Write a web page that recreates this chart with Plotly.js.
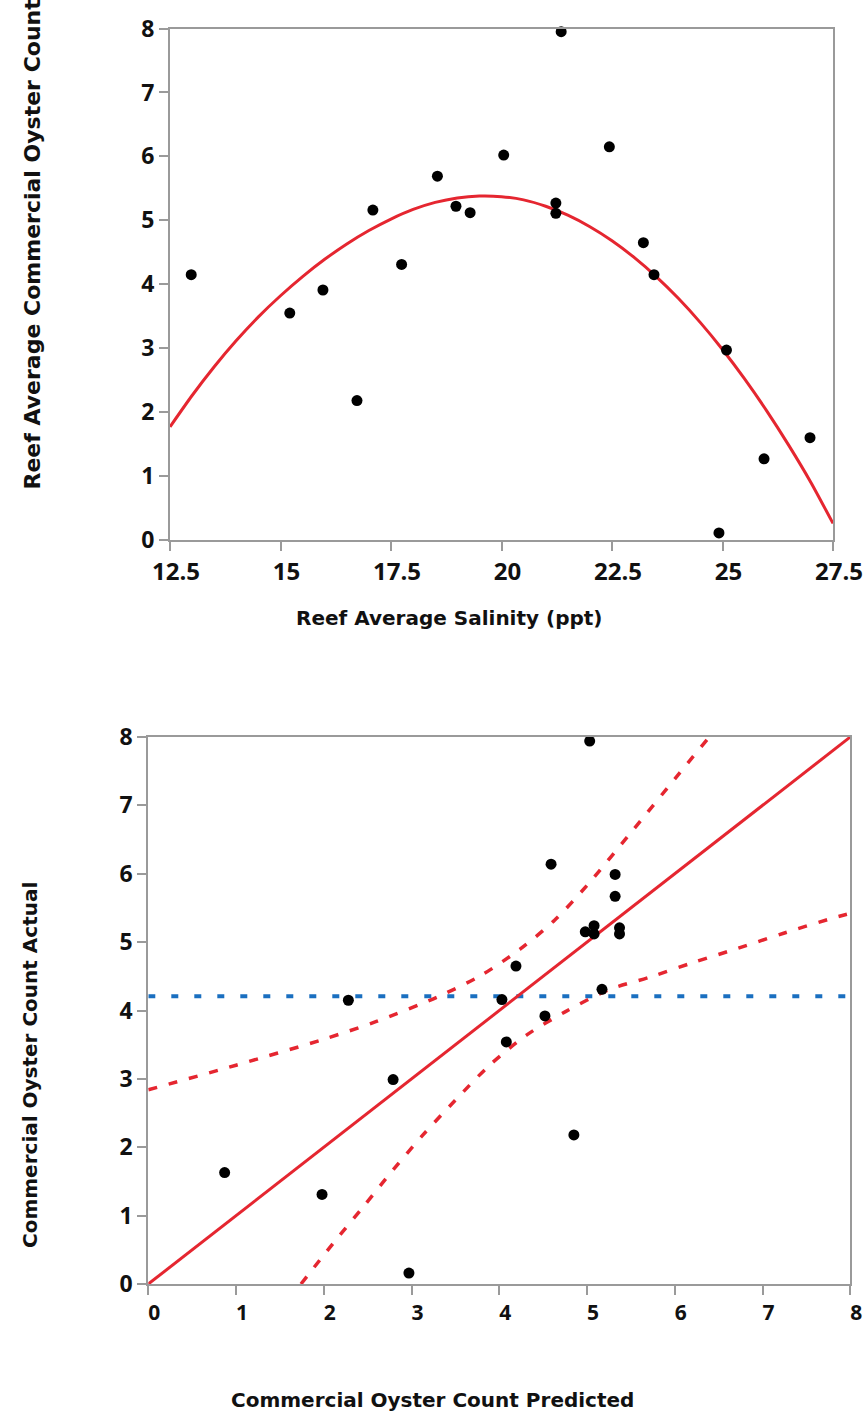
<!DOCTYPE html>
<html>
<head>
<meta charset="utf-8">
<script src="https://cdn.plot.ly/plotly-3.0.1.min.js"></script>
<style>
  html, body { margin: 0; padding: 0; background: #ffffff; }
  #chart { width: 865px; height: 1416px; }
</style>
</head>
<body>
<div id="chart"></div>
<script>
// ---------- Top panel: salinity vs. commercial oyster count ----------
const salinity = [12.98, 15.21, 15.96, 16.73, 17.09, 17.74, 18.55, 18.97, 19.29, 20.05,
                  21.23, 21.23, 21.35, 22.44, 23.21, 23.45, 25.09, 24.92, 25.94, 26.98];
const oysterCount = [4.15, 3.55, 3.91, 2.18, 5.16, 4.31, 5.69, 5.22, 5.12, 6.02,
                     5.27, 5.11, 7.95, 6.15, 4.65, 4.15, 2.97, 0.11, 1.27, 1.60];

// quadratic fit curve
const fitSalinity = [12.5, 13.0, 13.5, 14.0, 14.5, 15.0, 15.5, 16.0, 16.5, 17.0,
                     17.5, 18.0, 18.5, 19.0, 19.5, 20.0, 20.5, 21.0, 21.5, 22.0,
                     22.5, 23.0, 23.5, 24.0, 24.5, 25.0, 25.5, 26.0, 26.5, 27.0, 27.5];
const fitCount = [1.77, 2.26, 2.71, 3.12, 3.49, 3.82, 4.12, 4.39, 4.63, 4.84,
                  5.02, 5.17, 5.28, 5.35, 5.38, 5.37, 5.32, 5.22, 5.08, 4.90,
                  4.68, 4.42, 4.12, 3.78, 3.40, 2.98, 2.52, 2.02, 1.48, 0.90, 0.26];

const salinityTicks = [12.5, 15, 17.5, 20, 22.5, 25, 27.5];
const salinityTickText = ["12.5", "15", "17.5", "20", "22.5", "25", "27.5"];

// ---------- Bottom panel: predicted vs. actual ----------
const predicted = [5.03, 4.59, 5.32, 5.32, 4.98, 5.08, 5.08, 5.37, 5.37, 4.19,
                   5.17, 4.03, 4.52, 4.08, 2.28, 2.79, 0.87, 1.98, 2.97, 4.85];
const actual = [7.94, 6.14, 5.99, 5.67, 5.15, 5.24, 5.12, 5.21, 5.12, 4.65,
                4.31, 4.16, 3.92, 3.54, 4.15, 2.99, 1.63, 1.31, 0.16, 2.18];

const fitLineX = [0, 8];
const fitLineY = [0, 8];
const meanLineX = [0, 8];
const meanLineY = [4.21, 4.21];

const upperCiX = [0, 1.0, 2.0, 2.6, 3.3, 3.8, 4.24, 4.63, 5.0, 5.53, 6.04, 6.38];
const upperCiY = [2.84, 3.20, 3.58, 3.84, 4.20, 4.52, 4.90, 5.32, 5.83, 6.65, 7.45, 7.98];
const lowerCiX = [1.74, 2.11, 2.45, 2.79, 3.13, 3.50, 3.89, 4.31, 4.75, 5.24, 5.72, 6.23, 6.72, 7.24, 7.77, 8.0];
const lowerCiY = [0.0, 0.60, 1.13, 1.67, 2.18, 2.69, 3.20, 3.64, 3.98, 4.30, 4.49, 4.71, 4.91, 5.13, 5.34, 5.42];

const unitTicks = [0, 1, 2, 3, 4, 5, 6, 7, 8];
const unitTickText = ["0", "1", "2", "3", "4", "5", "6", "7", "8"];

// ---------- styling ----------
const W = 865, H = 1416;
const RED = "#e52630";
const BLUE = "#1a6fc0";
const AXIS = "#9a9a9a";
const TICKFONT = '"Open Sans", "Noto Sans", sans-serif';
const TITLEFONT = '"DejaVu Sans", Verdana, sans-serif';

const px = v => v / W;
const py = v => 1 - v / H;

const traces = [
  { x: fitSalinity, y: fitCount, type: "scatter", mode: "lines",
    line: { color: RED, width: 3, shape: "spline", smoothing: 0.6 }, xaxis: "x", yaxis: "y", hoverinfo: "skip" },
  { x: salinity, y: oysterCount, type: "scatter", mode: "markers",
    marker: { color: "#000", size: 11 }, xaxis: "x", yaxis: "y", cliponaxis: false },

  { x: meanLineX, y: meanLineY, type: "scatter", mode: "lines",
    line: { color: BLUE, width: 4, dash: "7px,16px" }, xaxis: "x2", yaxis: "y2" },
  { x: upperCiX, y: upperCiY, type: "scatter", mode: "lines",
    line: { color: RED, width: 3.5, dash: "9px,12px", shape: "spline", smoothing: 0.8 }, xaxis: "x2", yaxis: "y2" },
  { x: lowerCiX, y: lowerCiY, type: "scatter", mode: "lines",
    line: { color: RED, width: 3.5, dash: "9px,12px", shape: "spline", smoothing: 0.8 }, xaxis: "x2", yaxis: "y2" },
  { x: fitLineX, y: fitLineY, type: "scatter", mode: "lines",
    line: { color: RED, width: 3 }, xaxis: "x2", yaxis: "y2" },
  { x: predicted, y: actual, type: "scatter", mode: "markers",
    marker: { color: "#000", size: 11 }, xaxis: "x2", yaxis: "y2", cliponaxis: false }
];

function axisBase(extra) {
  return Object.assign({
    showline: true, mirror: true, linecolor: AXIS, linewidth: 2,
    ticks: "outside", ticklen: 9, tickwidth: 2, tickcolor: AXIS,
    showgrid: false, zeroline: false, fixedrange: true,
    tickfont: { family: TICKFONT, size: 23, color: "#111", weight: 700 }
  }, extra);
}

const layout = {
  width: W, height: H,
  margin: { l: 0, r: 0, t: 0, b: 0 },
  paper_bgcolor: "#ffffff", plot_bgcolor: "#ffffff",
  showlegend: false,
  xaxis: axisBase({ domain: [px(170), px(833)], range: [12.5, 27.5], anchor: "y",
    tickvals: salinityTicks, ticktext: salinityTickText, ticklabelshift: 6,
    tickfont: { family: TICKFONT, size: 24, color: "#111", weight: 700 } }),
  yaxis: axisBase({ domain: [py(540), py(28.5)], range: [0, 8], anchor: "x",
    tickvals: unitTicks, ticktext: unitTickText }),
  xaxis2: axisBase({ domain: [px(148.3), px(850.3)], range: [0, 8], anchor: "y2",
    tickvals: unitTicks, ticktext: unitTickText, ticklabelshift: 6,
    tickfont: { family: TICKFONT, size: 21, color: "#111", weight: 700 } }),
  yaxis2: axisBase({ domain: [py(1284), py(737)], range: [0, 8], anchor: "x2",
    tickvals: unitTicks, ticktext: unitTickText }),
  annotations: [
    { text: "Reef Average Salinity (ppt)", xref: "paper", yref: "paper",
      x: px(449), y: py(618), xanchor: "center", yanchor: "middle", showarrow: false,
      font: { family: TITLEFONT, size: 20, color: "#111", weight: 700 } },
    { text: "Reef Average Commercial Oyster Count", xref: "paper", yref: "paper",
      x: px(32), y: py(492), xanchor: "center", yanchor: "bottom", textangle: -90, showarrow: false,
      font: { family: TITLEFONT, size: 22, color: "#111", weight: 700 } },
    { text: "Commercial Oyster Count Predicted", xref: "paper", yref: "paper",
      x: px(432), y: py(1400), xanchor: "center", yanchor: "middle", showarrow: false,
      font: { family: TITLEFONT, size: 20, color: "#111", weight: 700 } },
    { text: "Commercial Oyster Count Actual", xref: "paper", yref: "paper",
      x: px(30), y: py(1250), xanchor: "center", yanchor: "bottom", textangle: -90, showarrow: false,
      font: { family: TITLEFONT, size: 20, color: "#111", weight: 700 } }
  ]
};

Plotly.newPlot("chart", traces, layout, { displayModeBar: false, staticPlot: true });
</script>
</body>
</html>
